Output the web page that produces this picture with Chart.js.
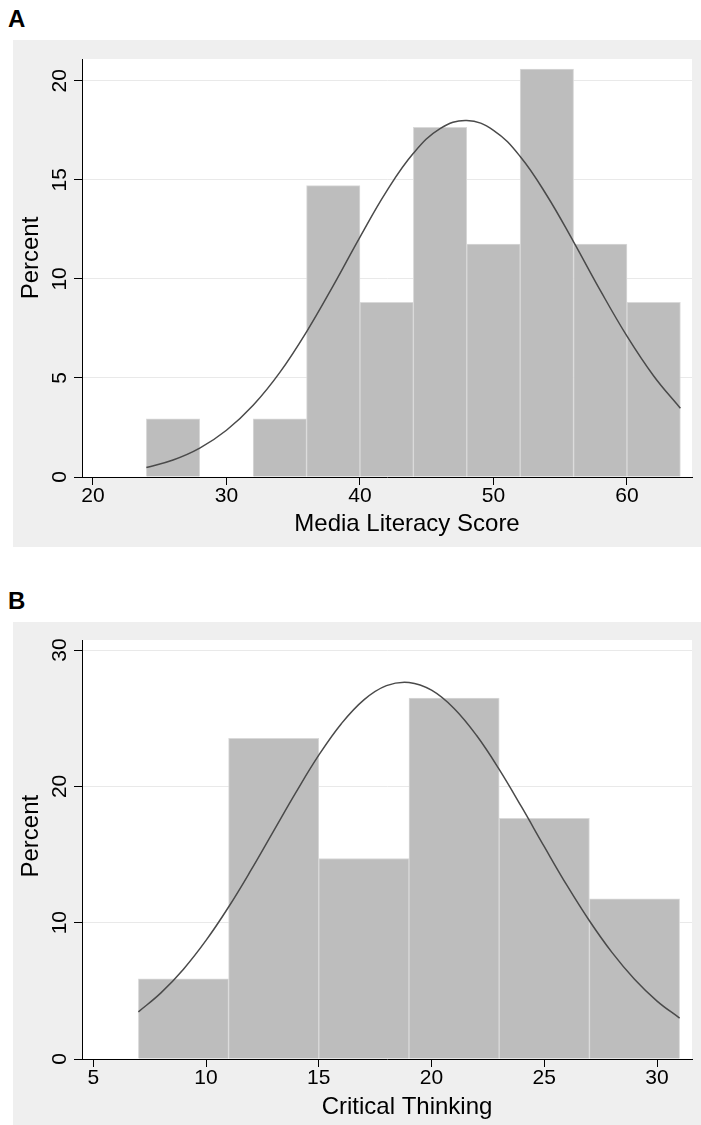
<!DOCTYPE html>
<html>
<head>
<meta charset="utf-8">
<script src="https://cdn.jsdelivr.net/npm/chart.js@4.4.0/dist/chart.umd.min.js"></script>
<style>
  body { margin: 0; background: #fff; width: 701px; height: 1125px; position: relative; overflow: hidden;
         font-family: "Liberation Sans", Arial, sans-serif; }
  .tag { position: absolute; left: 8px; font-weight: bold; font-size: 24px; line-height: 24px; color: #000; }
  canvas { position: absolute; left: 13px; background: #efefef; }
</style>
</head>
<body>
<div class="tag" style="top:7px">A</div>
<canvas id="chartA" width="688" height="507" style="top:40px"></canvas>
<div class="tag" style="top:589px">B</div>
<canvas id="chartB" width="688" height="503" style="top:622px"></canvas>

<script>
// Panel A - Media Literacy Score (bins of width 4)
const mediaBins = [26, 30, 34, 38, 42, 46, 50, 54, 58, 62];
const mediaPercent = [2.94, 0, 2.94, 14.71, 8.82, 17.65, 11.76, 20.59, 11.76, 8.82];
const mediaCurveX = [24, 26, 28, 30, 32, 34, 36, 38, 40, 42, 44, 46, 48, 50, 52, 54, 56, 58, 60, 62, 64];
const mediaCurveY = [0.48, 0.86, 1.46, 2.36, 3.62, 5.28, 7.33, 9.66, 12.11, 14.43, 16.34, 17.59, 18.0,
                     17.5, 16.18, 14.21, 11.87, 9.42, 7.11, 5.1, 3.47];
const mediaXTicks = [20, 30, 40, 50, 60];
const mediaYTicks = [0, 5, 10, 15, 20];

// Panel B - Critical Thinking
const thinkBins = [9, 13, 17, 21, 25, 29];
const thinkPercent = [5.88, 23.53, 14.71, 26.47, 17.65, 11.76];
const thinkCurveX = [7, 8, 9, 10, 11, 12, 13, 14, 15, 16, 17, 18, 19, 20, 21, 22, 23, 24, 25, 26, 27, 28, 29, 30, 31];
const thinkCurveY = [3.46, 4.85, 6.59, 8.7, 11.15, 13.87, 16.74, 19.6, 22.29, 24.6, 26.35, 27.39, 27.63,
                     27.06, 25.72, 23.73, 21.25, 18.47, 15.58, 12.75, 10.14, 7.82, 5.85, 4.25, 3.0];
const thinkXTicks = [5, 10, 15, 20, 25, 30];
const thinkYTicks = [0, 10, 20, 30];

Chart.defaults.font.family = '"Liberation Sans", Arial, sans-serif';
Chart.defaults.color = '#000';

// white plot region on the grey graph region
const plotBg = {
    id: 'plotBg',
    beforeDraw(chart) {
        const a = chart.chartArea;
        const ctx = chart.ctx;
        ctx.save();
        ctx.fillStyle = '#fff';
        ctx.fillRect(a.left, a.top, a.right - a.left, a.bottom - a.top);
        ctx.restore();
    }
};

function histogram(id, o) {
    const ctx = document.getElementById(id).getContext('2d');
    return new Chart(ctx, {
        type: 'bar',
        data: {
            datasets: [{
                type: 'line',
                data: o.curveX.map((x, i) => ({ x: x, y: o.curveY[i] })),
                borderColor: '#4a4a4a',
                borderWidth: 1.5,
                pointRadius: 0,
                tension: 0.4,
                fill: false,
                order: 0
            }, {
                data: o.bins.map((x, i) => ({ x: x, y: o.percent[i] })),
                backgroundColor: '#bdbdbd',
                borderColor: '#d9d9d9',
                borderWidth: 1,
                barPercentage: 1,
                categoryPercentage: 1,
                order: 1
            }]
        },
        options: {
            responsive: false,
            animation: false,
            layout: { padding: { top: o.padTop, right: 9, left: 0, bottom: 0 } },
            plugins: { legend: { display: false }, tooltip: { enabled: false } },
            scales: {
                x: {
                    type: 'linear',
                    min: o.xMin,
                    max: o.xMax,
                    offset: false,
                    afterBuildTicks: s => { s.ticks = o.xTicks.map(v => ({ value: v })); },
                    afterFit: s => { s.height = o.xHeight; },
                    grid: { display: true, drawOnChartArea: false, drawTicks: true, tickLength: 8,
                            tickColor: '#000', offset: false },
                    border: { color: '#000', width: 1 },
                    ticks: { color: '#000', font: { size: 21, lineHeight: 1 }, padding: 1,
                             maxRotation: 0, autoSkip: false },
                    title: { display: true, text: '      ' + o.xTitle, color: '#000',
                             font: { size: 24 }, padding: { top: 0, bottom: o.xTitlePad } }
                },
                y: {
                    min: 0,
                    max: o.yMax,
                    afterBuildTicks: s => { s.ticks = o.yTicks.map(v => ({ value: v })); },
                    afterFit: s => { s.width = 69; },
                    grid: { color: '#e9e9e9', lineWidth: 1, drawTicks: true, tickLength: 8, tickColor: '#000' },
                    border: { color: '#000', width: 1 },
                    ticks: { color: '#000', font: { size: 21, lineHeight: 1 }, padding: 2,
                             minRotation: 90, maxRotation: 90, crossAlign: 'center' },
                    title: { display: true, text: o.yPad + 'Percent', color: '#000',
                             font: { size: 24 }, padding: { top: 4, bottom: 0 } }
                }
            }
        },
        plugins: [plotBg]
    });
}

histogram('chartA', {
    bins: mediaBins, percent: mediaPercent, curveX: mediaCurveX, curveY: mediaCurveY,
    xTicks: mediaXTicks, yTicks: mediaYTicks, xMin: 19.18, xMax: 64.87, yMax: 21.1,
    xTitle: 'Media Literacy Score', padTop: 19, xHeight: 70, xTitlePad: 8, yPad: '   '
});

histogram('chartB', {
    bins: thinkBins, percent: thinkPercent, curveX: thinkCurveX, curveY: thinkCurveY,
    xTicks: thinkXTicks, yTicks: thinkYTicks, xMin: 4.5, xMax: 31.55, yMax: 30.74,
    xTitle: 'Critical Thinking', padTop: 18, xHeight: 66, xTitlePad: 3, yPad: '    '
});
</script>
</body>
</html>
